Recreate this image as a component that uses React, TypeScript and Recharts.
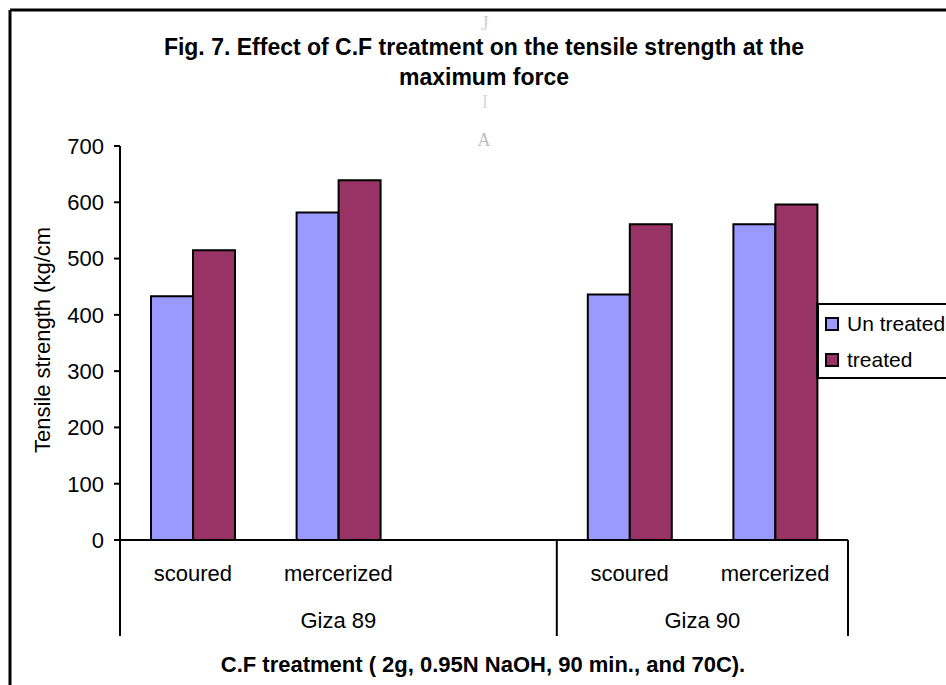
import { Bar, BarChart, Customized, Legend, XAxis, YAxis } from 'recharts';

const categories = ['scoured', 'mercerized', '', 'scoured', 'mercerized'];
const groups = ['Giza 89', 'Giza 89', 'Giza 89', 'Giza 90', 'Giza 90'];
const untreated = [433, 582, null, 436, 561];
const treated = [515, 639, null, 561, 596];
const yTicks = [0, 100, 200, 300, 400, 500, 600, 700];

const data = categories.map((c, i) => ({
  key: `${groups[i]}-${c || 'blank'}-${i}`,
  untreated: untreated[i],
  treated: treated[i],
}));

const font = '"Liberation Sans", Arial, sans-serif';

function CategoryTick(props: any) {
  const { x, y, payload } = props;
  const i = payload.index;
  const half = payload.offset ?? 0;
  const left = x - half;
  const isGroupStart = i === 0 || groups[i] !== groups[i - 1];
  const isLast = i === categories.length - 1;
  let groupCenter = 0;
  if (isGroupStart) {
    const n = groups.filter((g) => g === groups[i]).length;
    groupCenter = left + n * half;
  }
  return (
    <g>
      <text
        x={x}
        y={y + 33}
        textAnchor="middle"
        dominantBaseline="central"
        fontSize={22}
        fontFamily={font}
        fill="#000"
      >
        {categories[i]}
      </text>
      {isGroupStart && (
        <>
          <line x1={left} x2={left} y1={y} y2={y + 96} stroke="#000" strokeWidth={2} />
          <text
            x={groupCenter}
            y={y + 80}
            textAnchor="middle"
            dominantBaseline="central"
            fontSize={22}
            fontFamily={font}
            fill="#000"
          >
            {groups[i]}
          </text>
        </>
      )}
      {isLast && (
        <line x1={x + half} x2={x + half} y1={y} y2={y + 96} stroke="#000" strokeWidth={2} />
      )}
    </g>
  );
}

function LegendBox(props: any) {
  const { payload } = props;
  return (
    <div
      style={{
        boxSizing: 'border-box',
        width: 140,
        height: 76,
        border: '2px solid #000',
        borderLeftWidth: 3,
        background: '#fff',
        padding: '1px 0 0 6px',
        fontFamily: font,
        fontSize: 21,
        color: '#000',
      }}
    >
      {(payload || []).map((p: any) => (
        <div key={p.value} style={{ height: 36, display: 'flex', alignItems: 'center' }}>
          <span
            style={{
              display: 'inline-block',
              width: 10,
              height: 10,
              border: '2px solid #000',
              background: p.color,
              marginRight: 8,
            }}
          />
          <span>{p.value}</span>
        </div>
      ))}
    </div>
  );
}

function Decorations() {
  return (
    <g fontFamily={font}>
      <line x1={10} y1={10} x2={946} y2={10} stroke="#000" strokeWidth={3} />
      <line x1={10} y1={10} x2={10} y2={685} stroke="#000" strokeWidth={3} />
      <text x={485} y={30} textAnchor="middle" fontSize={20} fontFamily="serif" fill="#d0d0d0">J</text>
      <text x={485} y={108} textAnchor="middle" fontSize={18} fontFamily="serif" fill="#d8d8d8">I</text>
      <text x={484} y={146} textAnchor="middle" fontSize={18} fontFamily="serif" fill="#bdbdbd">A</text>
      <text x={484} y={47} textAnchor="middle" dominantBaseline="central" fontSize={23} fontWeight="bold" fill="#000">
        Fig. 7. Effect of C.F treatment on the tensile strength at the
      </text>
      <text x={484} y={77} textAnchor="middle" dominantBaseline="central" fontSize={23} fontWeight="bold" fill="#000">
        maximum force
      </text>
      <text
        x={42}
        y={340}
        transform="rotate(-90 42 340)"
        textAnchor="middle"
        dominantBaseline="central"
        fontSize={22}
        fill="#000"
      >
        Tensile strength (kg/cm
      </text>
      <text x={483} y={664} textAnchor="middle" dominantBaseline="central" fontSize={22} fontWeight="bold" fill="#000">
        C.F treatment ( 2g, 0.95N NaOH, 90 min., and 70C).
      </text>
    </g>
  );
}

export default function App() {
  return (
    <div
      style={{
        position: 'absolute',
        left: 0,
        top: 0,
        width: 946,
        height: 685,
        overflow: 'hidden',
        background: '#fff',
      }}
    >
      <BarChart
        width={946}
        height={685}
        data={data}
        margin={{ top: 146, right: 98, bottom: 45, left: 60 }}
        barSize={42}
        barGap={0}
      >
        <XAxis
          dataKey="key"
          interval={0}
          height={100}
          tickLine={false}
          tickSize={0}
          tickMargin={0}
          axisLine={{ stroke: '#000', strokeWidth: 2 }}
          tick={<CategoryTick />}
        />
        <YAxis
          width={60}
          domain={[0, 700]}
          ticks={yTicks}
          interval={0}
          tickSize={6}
          tickMargin={10}
          axisLine={{ stroke: '#000', strokeWidth: 2 }}
          tickLine={{ stroke: '#000', strokeWidth: 2 }}
          tick={{ fill: '#000', fontSize: 22, fontFamily: font }}
        />
        <Legend
          layout="vertical"
          align="center"
          verticalAlign="middle"
          content={<LegendBox />}
          wrapperStyle={{ left: 816, top: 303, width: 140, height: 76 }}
        />
        <Bar
          dataKey="untreated"
          name="Un treated"
          fill="#9999FF"
          stroke="#000"
          strokeWidth={2}
          isAnimationActive={false}
        />
        <Bar
          dataKey="treated"
          name="treated"
          fill="#993366"
          stroke="#000"
          strokeWidth={2}
          isAnimationActive={false}
        />
        <Customized component={<Decorations />} />
      </BarChart>
    </div>
  );
}
